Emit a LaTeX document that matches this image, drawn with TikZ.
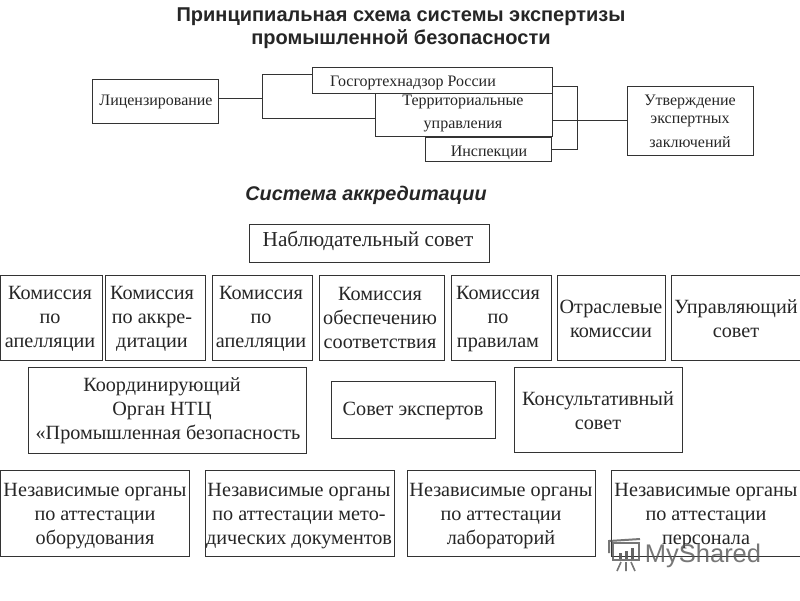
\documentclass[tikz,border=0pt]{standalone}
\usepackage{fontspec}
\setmainfont{Liberation Serif}
\newfontfamily\headfont{Liberation Sans}
\definecolor{ink}{HTML}{333333}
\definecolor{wm}{HTML}{555555}
\newcommand{\bx}[5]{%
  \pgfmathsetmacro{\bw}{#4-#2}\pgfmathsetmacro{\bh}{#5-#3}%
  \pgfmathsetmacro{\bcx}{(#2+#4)/2}\pgfmathsetmacro{\bcy}{(#3+#5)/2}%
  \node[boxnode,minimum width=\bw pt,minimum height=\bh pt] (#1) at (\bcx,\bcy) {};}
\tikzset{
  boxnode/.style={draw=ink,line width=1pt,inner sep=0pt,outer sep=0pt,fill=white},
  wire/.style={draw=ink,line width=1pt},
  big/.style={font=\fontsize{20.2}{24}\selectfont,align=center,text=black!85,inner sep=0pt},
  small/.style={font=\fontsize{16}{23}\selectfont,align=center,text=black!85,inner sep=0pt},
  head/.style={font=\headfont\bfseries\fontsize{20}{23}\selectfont,align=center,text=black!85,inner sep=0pt},
  headit/.style={font=\headfont\bfseries\itshape\fontsize{19.8}{22}\selectfont,text=black!85,inner sep=0pt},
}
\begin{document}
\begin{tikzpicture}[x=1pt,y=-1pt]
\useasboundingbox (0,0) rectangle (800,600);
\fill[white] (0,0) rectangle (800,600);
\node[head] (title) at (401,28.5) {Принципиальная схема системы экспертизы\\промышленной безопасности};
\node[headit] (acc) at (366,195) {Система аккредитации};

\coordinate (jl) at (262,98);
\coordinate (jlt) at (262,74);
\coordinate (jlb) at (262,118);
\coordinate (jrt) at (577,86);
\coordinate (jrb) at (577,149);
\bx{lic}{92}{79}{218}{123}
\bx{gos}{312}{67}{552}{93}
\bx{ter}{375}{93}{552}{136}
\bx{insp}{425}{137}{551}{161}
\bx{utv}{627}{86}{753}{155}
\draw[wire] (lic.east |- jl) -- (jl);
\draw[wire] (jlt) -- (jlb);
\draw[wire] (jlt) -- (gos.west |- jlt);
\draw[wire] (jlb) -- (ter.west |- jlb);
\draw[wire] (gos.east |- jrt) -- (jrt) -- (jrb) -- (insp.east |- jrb);
\draw[wire] (ter.east |- utv.west) -- (utv.west);

\node[small] (licT) at (156,102) {Лицензирование};
\node[small] (gosT) at (413,83) {Госгортехнадзор России};
\node[small] (terT) at (463,113.5) {Территориальные\\управления};
\node[small] (inspT) at (489,152.5) {Инспекции};
\node[small,font=\fontsize{16}{24}\selectfont] (utvT) at (690,121) {Утверждение\\[-6pt]экспертных\\заключений};

\bx{nab}{249}{224}{489}{262}
\node[big,font=\fontsize{21.3}{24}\selectfont] (nabT) at (368,241) {Наблюдательный совет};

\bx{a}{0}{275}{102}{360}
\bx{b}{105}{275}{205}{360}
\bx{c}{212}{275}{312}{360}
\bx{d}{319}{275}{444}{360}
\bx{e}{451}{275}{551}{360}
\bx{f}{557}{275}{665}{360}
\bx{g}{671}{275}{801}{360}
\node[big] (aT) at (50,319) {Комиссия\\по\\апелляции};
\node[big] (bT) at (152,319) {Комиссия\\по аккре-\\дитации};
\node[big] (cT) at (261,319) {Комиссия\\по\\апелляции};
\node[big] (dT) at (380,318) {Комиссия\\обеспечению\\соответствия};
\node[big] (eT) at (498,319) {Комиссия\\по\\правилам};
\node[big] (fT) at (611,319) {Отраслевые\\комиссии};
\node[big] (gT) at (736,319) {Управляющий\\совет};

\bx{h}{28}{367}{306}{453}
\bx{i}{331}{381}{495}{438}
\bx{j}{514}{367}{682}{452}
\node[big] (hT) at (162,411) {Координирующий\\Орган НТЦ\\\hspace*{12pt}«Промышленная безопасность};
\node[big] (iT) at (413,411) {Совет экспертов};
\node[big] (jT) at (598,411) {Консультативный\\совет};

\bx{k}{0}{470}{189}{556}
\bx{l}{205}{470}{394}{556}
\bx{m}{407}{470}{595}{556}
\bx{n}{611}{470}{801}{556}
\node[big] (kT) at (95,516) {Независимые органы\\по аттестации\\оборудования};
\node[big] (lT) at (299,516) {Независимые органы\\по аттестации мето-\\дических документов};
\node[big] (mT) at (501,516) {Независимые органы\\по аттестации\\лабораторий};
\node[big] (nT) at (706,516) {Независимые органы\\по аттестации\\персонала};

% watermark
\draw[wm,line width=2pt,opacity=.8] (613,543) rectangle (639,560);
\draw[wm,line width=2pt,opacity=.8] (609,553) -- (609,541) -- (640,539);
\fill[wm,opacity=.9] (619,553) rectangle (622,559);
\fill[wm,opacity=.9] (625,551) rectangle (628,559);
\fill[wm,opacity=.9] (631,548) rectangle (634,559);
\draw[wm,line width=1.6pt,opacity=.8] (621,562) -- (617,571) (626,562) -- (626,571) (631,562) -- (635,571);
\node[font=\headfont\fontsize{25.5}{26}\selectfont,text=wm,opacity=.8,inner sep=0pt] (wmT) at (703,556) {MyShared};
\end{tikzpicture}
\end{document}
